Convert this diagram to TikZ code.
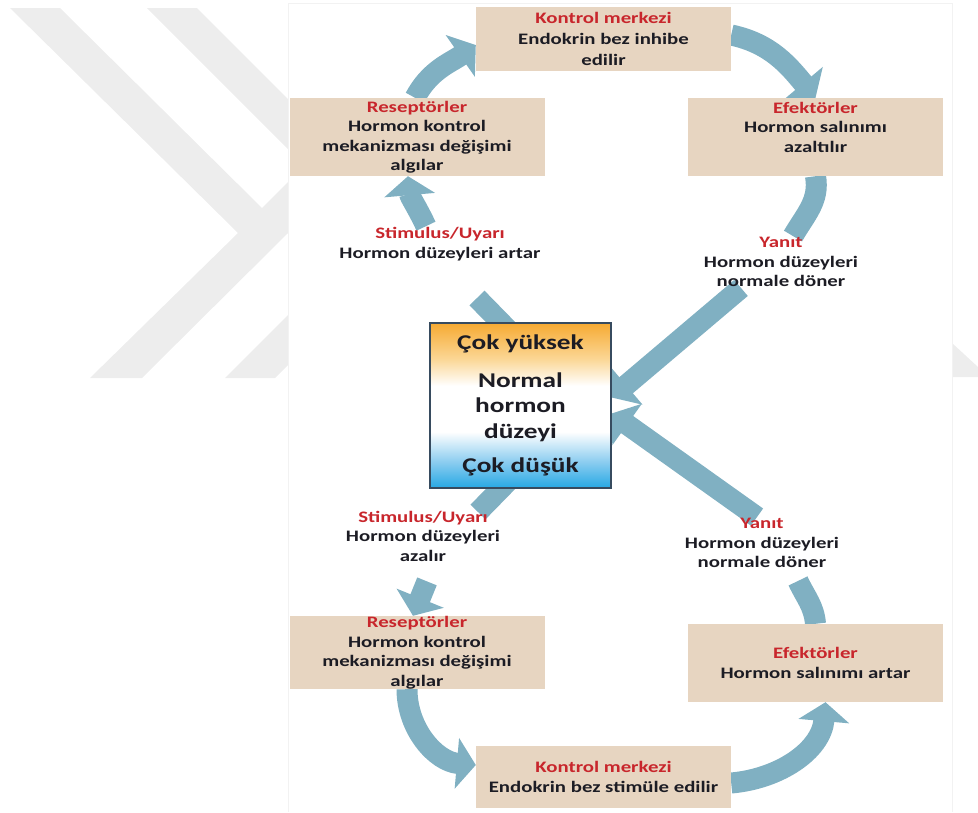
\documentclass[tikz,border=0pt]{standalone}
\usepackage{fontspec}
\setmainfont{Carlito}[FakeStretch=1.3]
\usetikzlibrary{arrows.meta, backgrounds}
\usepackage{xcolor}

\definecolor{boxtan}{RGB}{231,213,193}
\definecolor{lblred}{RGB}{200,38,44}
\definecolor{txtdark}{RGB}{28,28,36}
\definecolor{flowblue}{RGB}{128,176,194}
\definecolor{lvblue}{RGB}{38,168,228}
\definecolor{lvbluelt}{RGB}{140,205,240}
\definecolor{lvorange}{RGB}{246,170,50}
\definecolor{lvorangelt}{RGB}{251,215,150}
\definecolor{wmgray}{RGB}{237,237,237}
\definecolor{ctrframe}{RGB}{55,75,95}

\pgfdeclareverticalshading{hormonlevel}{100bp}{color(0bp)=(lvblue); color(25bp)=(lvblue); color(33bp)=(lvbluelt); color(42bp)=(white); color(56bp)=(white); color(64bp)=(lvorangelt); color(75bp)=(lvorange); color(100bp)=(lvorange)}

\newcommand{\lbltext}{\bfseries\fontsize{16}{19.5}\selectfont}
\newcommand{\bigtext}{\bfseries\fontsize{21}{25.5}\selectfont}
\newcommand{\redhead}[1]{\textcolor{lblred}{#1}}

\begin{document}
\begin{tikzpicture}[x=1pt, y=-1pt,
  box/.style={rectangle, fill=boxtan, minimum width=255pt, align=center, inner sep=0pt, font=\lbltext, text=txtdark},
  lbl/.style={align=center, inner sep=1pt, font=\lbltext, text=txtdark},
  flow/.style={line width=21pt, draw=flowblue},
  flowhead/.style={flow, -{Triangle[width=50pt,length=19pt]}}
]
  \useasboundingbox (0,0) rectangle (978,812);

  % watermark and panel
  \fill[wmgray] (10,8) -- (60,8) -- (262,208) -- (288,182) -- (288,233) -- (142,378) -- (90,378) -- (238,233) -- cycle;
  \fill[wmgray] (147,8) -- (197,8) -- (288,99) -- (288,149) -- cycle;
  \fill[wmgray] (225,378) -- (275,378) -- (288,365) -- (288,315) -- cycle;
  \fill[wmgray] (952,343) -- (978,367) -- (978,377) -- (952,377) -- cycle;
  \draw[black!5] (288,812) -- (288,3) -- (952,3) -- (952,812);

  % upper loop
  \node[box, minimum height=64pt, font=\bfseries\fontsize{16}{21}\selectfont] (ctlT) at (603.5,39) {\redhead{Kontrol merkezi}\\Endokrin bez inhibe\\edilir};
  \node[box, minimum height=78pt] (resT) at (417,137) {\redhead{Reseptörler}\\Hormon kontrol\\mekanizması değişimi\\algılar};
  \node[box, minimum height=78pt] (efT) at (815.5,137) {\redhead{Efektörler}\\Hormon salınımı\\azaltılır\\\mbox{}};
  \node[lbl] (stT) at (440,244) {\redhead{Stimulus/Uyarı}\\Hormon düzeyleri artar};
  \node[lbl] (yanT) at (781,262) {\redhead{Yanıt}\\Hormon düzeyleri\\normale döner};

  % hormone level
  \node[draw=ctrframe, line width=1.2pt, shade, shading=hormonlevel, minimum width=181pt, minimum height=165pt,
        align=center, font=\bigtext, text=txtdark] (ctr) at (520.5,405.5)
        {Çok yüksek\\[12pt]Normal\\hormon\\düzeyi\\[9pt]Çok düşük};

  % lower loop
  \node[lbl] (stB) at (423,536) {\redhead{Stimulus/Uyarı}\\Hormon düzeyleri\\azalır};
  \node[lbl] (yanB) at (762,543) {\redhead{Yanıt}\\Hormon düzeyleri\\normale döner};
  \node[box, minimum height=73pt] (resB) at (417,652.5) {\redhead{Reseptörler}\\Hormon kontrol\\mekanizması değişimi\\algılar};
  \node[box, minimum height=78pt] (efB) at (815.5,663) {\redhead{Efektörler}\\Hormon salınımı artar};
  \node[box, minimum height=62pt] (ctlB) at (603.5,777) {\redhead{Kontrol merkezi}\\Endokrin bez stimüle edilir};

  \coordinate (stTend) at (477,298);
  \coordinate (stBend) at (478,512);

  \begin{scope}[on background layer]
    \draw[flowhead] ([xshift=-2pt]resT.north) to[out=62,in=215] ([yshift=-6pt]ctlT.west);
    \draw[flowhead] ([yshift=4pt]ctlT.east) to[out=-12,in=130] (efT.north);
    \draw[flow] (efT.south) to[out=-80,in=60] ([xshift=12pt]yanT.north);
    \draw[flowhead] ([xshift=-40pt]yanT.south) -- ([yshift=8pt]ctr.east);
    \draw[flow] ([xshift=-5pt,yshift=-15pt]ctr.north) -- (stTend);
    \draw[flowhead] ([xshift=-14pt]stT.north) to[out=115,in=-85] ([xshift=-9pt]resT.south);

    \draw[flow] ([xshift=-5pt,yshift=15pt]ctr.south) -- (stBend);
    \draw[flowhead] ([xshift=4pt,yshift=-19pt]stB.south) -- ([xshift=-4pt]resB.north);
    \draw[flowhead] ([xshift=-10pt]resB.south) to[out=-90,in=175] ([yshift=12pt]ctlB.west);
    \draw[flowhead] ([yshift=-6pt]ctlB.east) to[out=5,in=-95] ([xshift=10pt]efB.south);
    \draw[flow] (efB.north) to[out=95,in=-65] ([xshift=36pt,yshift=-12pt]yanB.south);
    \draw[flowhead] ([xshift=-5pt]yanB.north) -- ([yshift=-8pt]ctr.east);
  \end{scope}
\end{tikzpicture}
\end{document}
